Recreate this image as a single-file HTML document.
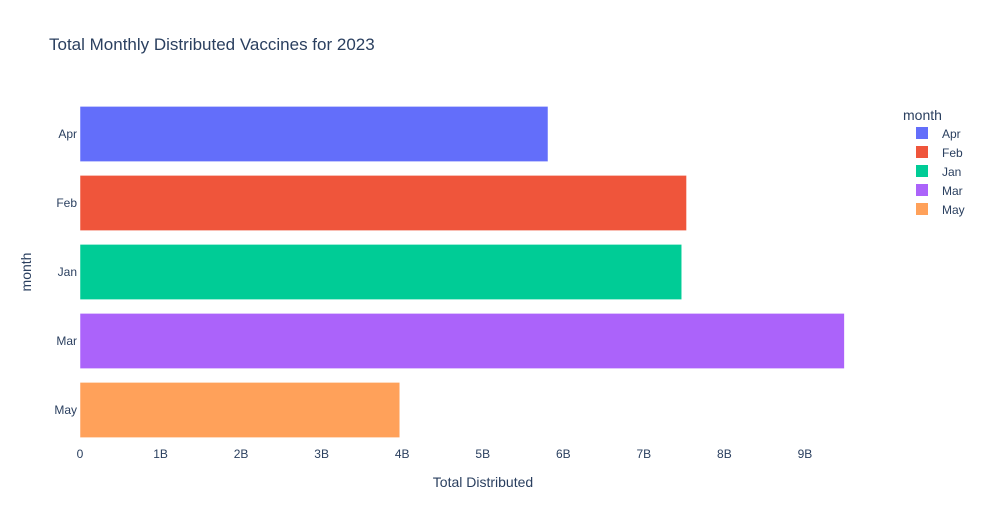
<!DOCTYPE html>
<html><head><meta charset="utf-8"><style>
body{margin:0;background:#fff;font-family:"Liberation Sans",Arial,sans-serif;}
svg text{fill:#2a3f5f;}
</style></head><body>
<svg id="chart" width="984" height="525" xmlns="http://www.w3.org/2000/svg">
<text x="49" y="50" font-size="17">Total Monthly Distributed Vaccines for 2023</text>
<g id="bars"></g>
<g id="xticks"></g>
<g id="yticks"></g>
<text x="483" y="487" font-size="14" text-anchor="middle">Total Distributed</text>
<text transform="translate(31,272) rotate(-90)" font-size="14" text-anchor="middle">month</text>
<g id="legend">
<text x="903" y="120" font-size="14">month</text>
</g>
</svg>
<script>
const categories=["Apr","Feb","Jan","Mar","May"];
const values=[5.81e9,7.53e9,7.47e9,9.49e9,3.97e9];
const colors=["#636efa","#EF553B","#00cc96","#ab63fa","#FFA15A"];
const tickValues=[0,1e9,2e9,3e9,4e9,5e9,6e9,7e9,8e9,9e9];
const tickLabels=["0","1B","2B","3B","4B","5B","6B","7B","8B","9B"];
const NS="http://www.w3.org/2000/svg";
const x0=80,pxPerUnit=80.55/1e9,yTop=99.5,step=69;
function xs(v){return x0+v*pxPerUnit;}
function yc(i){return yTop+step*(i+0.5);}
function mk(t,a,p){const e=document.createElementNS(NS,t);for(const k in a)e.setAttribute(k,a[k]);p.appendChild(e);return e;}
const bars=document.getElementById('bars'),xt=document.getElementById('xticks'),yt=document.getElementById('yticks'),lg=document.getElementById('legend');
categories.forEach((c,i)=>{
  const bw=step*0.8;
  const r=mk('rect',{x:xs(0),y:yc(i)-bw/2,width:xs(values[i])-xs(0),height:bw,fill:colors[i],stroke:'#fff','stroke-width':0.5},bars);
  
  
  const t=mk('text',{x:77,y:yc(i)+4,'font-size':12,'text-anchor':'end'},yt);t.textContent=c;
  
  
  const g=mk('g',{},lg);
  
  
  mk('rect',{x:916,y:127+i*19,width:12,height:12,fill:colors[i]},g);
  const lt=mk('text',{x:942,y:138+i*19,'font-size':12},g);lt.textContent=c;
});
tickValues.forEach((v,i)=>{
  const t=mk('text',{x:xs(v),y:458,'font-size':12,'text-anchor':'middle'},xt);t.textContent=tickLabels[i];
  
  
});
</script>
</body></html>
